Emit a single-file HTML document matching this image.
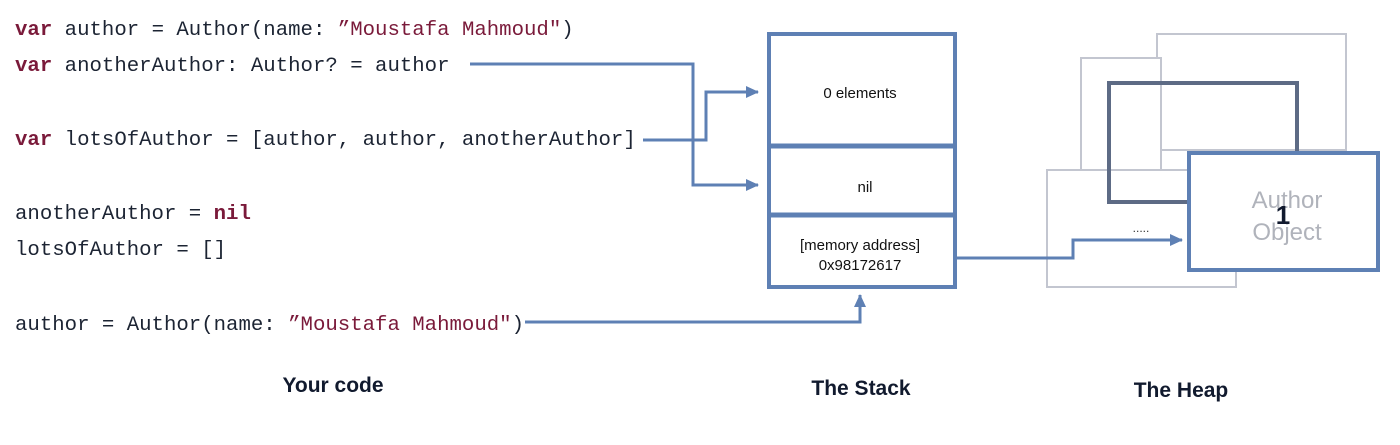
<!DOCTYPE html>
<html><head><meta charset="utf-8"><style>
html,body{margin:0;padding:0;background:#fff;width:1400px;height:445px;overflow:hidden}
svg{display:block}
.c{font-family:"Liberation Mono",monospace;font-size:20.7px;fill:#1c2433}
.k{fill:#7a1a3a;font-weight:bold}
.s{fill:#7a1a3a}
.lbl{font-family:"Liberation Sans",sans-serif;font-weight:bold;font-size:21px;fill:#111a2e}
.st{font-family:"Liberation Sans",sans-serif;font-size:15px;fill:#111}
</style></head><body>
<svg width="1400" height="445" viewBox="0 0 1400 445" xmlns="http://www.w3.org/2000/svg">
<defs>
<marker id="b" markerWidth="14" markerHeight="14" refX="12" refY="7" orient="auto" markerUnits="userSpaceOnUse">
<path d="M0,1 L13,7 L0,13 Z" fill="#5e80b4"/></marker>
</defs>
<!-- code -->
<text class="c" x="15" y="35"><tspan class="k">var</tspan> author = Author(name: <tspan class="s">”Moustafa Mahmoud"</tspan>)</text>
<text class="c" x="15" y="71"><tspan class="k">var</tspan> anotherAuthor: Author? = author</text>
<text class="c" x="15" y="145"><tspan class="k">var</tspan> lotsOfAuthor = [author, author, anotherAuthor]</text>
<text class="c" x="15" y="219">anotherAuthor = <tspan class="k">nil</tspan></text>
<text class="c" x="15" y="255">lotsOfAuthor = []</text>
<text class="c" x="15" y="330">author = Author(name: <tspan class="s">”Moustafa Mahmoud"</tspan>)</text>

<!-- heap background rects -->
<g fill="#fff" stroke="#c3c6d0" stroke-width="2">
<rect x="1157" y="34" width="189" height="116"/>
<rect x="1081" y="58" width="80" height="115"/>
<rect x="1047" y="170" width="189" height="117"/>
</g>
<rect x="1109" y="83" width="188" height="119" fill="none" stroke="#5d6b85" stroke-width="4"/>
<text x="1141" y="232" font-family="Liberation Sans,sans-serif" font-size="12" text-anchor="middle" fill="#333">.....</text>

<!-- connectors -->
<g fill="none" stroke="#5e80b4" stroke-width="3">
<polyline points="470,64 693,64 693,185 758,185" marker-end="url(#b)"/>
<polyline points="643,140 706,140 706,92 758,92" marker-end="url(#b)"/>
<polyline points="525,322 860,322 860,295" marker-end="url(#b)"/>
<polyline points="957,258 1073,258 1073,240 1182,240" marker-end="url(#b)"/>
</g>

<!-- stack -->
<g fill="none" stroke="#5e80b4" stroke-width="4">
<rect x="769" y="34" width="186" height="253"/>
<line x1="769" y1="146" x2="955" y2="146" stroke-width="5"/>
<line x1="769" y1="215" x2="955" y2="215" stroke-width="5"/>
</g>
<text class="st" x="860" y="98" text-anchor="middle">0 elements</text>
<text class="st" x="865" y="192" text-anchor="middle" font-size="17">nil</text>
<text class="st" x="860" y="250" text-anchor="middle" font-size="14">[memory address]</text>
<text class="st" x="860" y="270" text-anchor="middle" font-size="14">0x98172617</text>

<!-- author object -->
<rect x="1189" y="153" width="189" height="117" fill="#fff" stroke="#5e80b4" stroke-width="4"/>
<text x="1287" y="208" font-family="Liberation Sans,sans-serif" font-size="24" text-anchor="middle" fill="#b0b3bb">Author</text>
<text x="1287" y="240" font-family="Liberation Sans,sans-serif" font-size="24" text-anchor="middle" fill="#b0b3bb">Object</text>
<text x="1283" y="224" font-family="Liberation Sans,sans-serif" font-size="26" font-weight="bold" text-anchor="middle" fill="#111a2e">1</text>

<!-- labels -->
<text class="lbl" x="333" y="392" text-anchor="middle">Your code</text>
<text class="lbl" x="861" y="395" text-anchor="middle">The Stack</text>
<text class="lbl" x="1181" y="397" text-anchor="middle">The Heap</text>
</svg>
</body></html>
